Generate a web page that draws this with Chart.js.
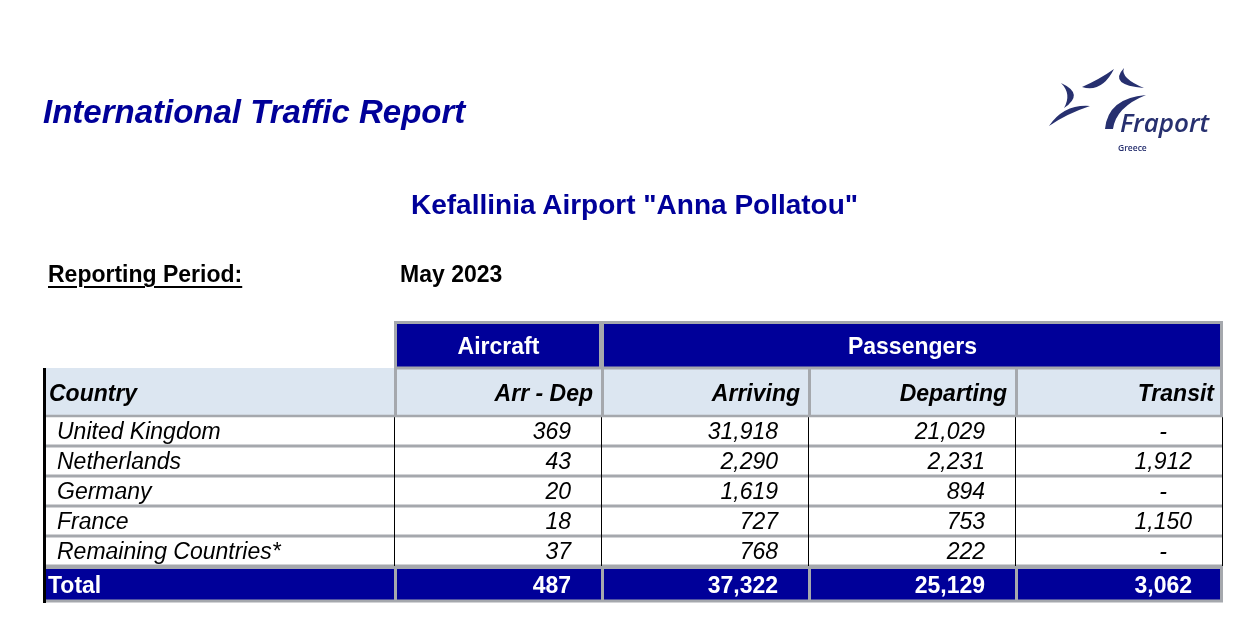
<!DOCTYPE html>
<html>
<head>
<meta charset="utf-8">
<script src="https://cdn.jsdelivr.net/npm/chart.js@4/dist/chart.umd.min.js"></script>
<style>
  html, body { margin:0; padding:0; background:#fff; }
  body { width:1257px; height:630px; position:relative; overflow:hidden; font-family:"Liberation Sans", Arial, sans-serif; }
  #c { position:absolute; left:0; top:0; }
  .t { position:absolute; white-space:nowrap; font-weight:bold; }
  #title { left:43px; top:95px; font-size:33px; line-height:33px; font-style:italic; color:#000099; }
  #subtitle { left:411px; top:191px; font-size:28px; line-height:28px; color:#000099; }
  #period { left:48px; top:263px; font-size:23px; line-height:23px; color:#000; text-decoration:underline; text-decoration-thickness:2px; text-underline-offset:4px; }
  #month { left:400px; top:263px; font-size:23px; line-height:23px; color:#000; }
  #logo { position:absolute; left:1040px; top:60px; }
</style>
</head>
<body>
<canvas id="c" width="1257" height="630"></canvas>
<div class="t" id="title">International Traffic Report</div>
<div class="t" id="subtitle">Kefallinia Airport "Anna Pollatou"</div>
<div class="t" id="period">Reporting Period:</div>
<div class="t" id="month">May 2023</div>
<svg id="logo" width="190" height="100" viewBox="0 0 190 100">
  <g fill="#27306f">
    <path d="M42,27 Q62,33 74,9 Q60,19 42,27 Z"/>
    <path d="M84,8 Q68,25 104,28 Q80,18 84,8 Z"/>
    <path d="M21,23 Q45,34 24,48 Q32,34 21,23 Z"/>
    <path d="M9,66 Q24,44 50,46 Q26,54 9,66 Z"/>
    <path d="M65,69 Q68,38 106,35 Q76,47 73,69 Z"/>
  </g>
  <text x="80" y="72" font-family="'Open Sans', 'Liberation Sans', sans-serif" font-style="italic" font-weight="600" font-size="26" fill="#27306f">Fraport</text>
  <text x="78" y="91" font-family="'Open Sans', 'Liberation Sans', sans-serif" font-weight="600" font-size="8.5" fill="#27306f">Greece</text>
</svg>
<script>
const groupLabels = ['Aircraft', 'Passengers'];
const columnLabels = ['Country', 'Arr - Dep', 'Arriving', 'Departing', 'Transit'];
const countries = ['United Kingdom', 'Netherlands', 'Germany', 'France', 'Remaining Countries*'];
const aircraftArrDep = [369, 43, 20, 18, 37];
const passengersArriving = [31918, 2290, 1619, 727, 768];
const passengersDeparting = [21029, 2231, 894, 753, 222];
const passengersTransit = [null, 1912, null, 1150, null];
const totalLabel = 'Total';
const totals = [487, 37322, 25129, 3062];

// ---- layout / style (not data) ----
const NAVY = '#000099', LIGHT = '#dce6f1', GREY = '#a5a8ad';
const colEdges = [43, 395, 602, 809, 1016, 1223];
const groupSpans = [[1, 2], [2, 5]];
const hdr1 = [321, 368], hdr2 = [368, 416];
const rowTop = 416, rowH = 30;
const totalRow = [567, 602];
const FONT = '"Liberation Sans", Arial, sans-serif';

function fmt(v) { return v == null ? '-' : v.toLocaleString('en-US'); }

const tablePlugin = {
  id: 'tablePlugin',
  afterDraw(chart) {
    const ctx = chart.ctx;
    const X = v => chart.scales.x.getPixelForValue(v);
    const Y = v => chart.scales.y.getPixelForValue(v);
    const rect = (x0, y0, x1, y1, col) => { ctx.fillStyle = col; ctx.fillRect(X(x0), Y(y0), X(x1) - X(x0), Y(y1) - Y(y0)); };
    const hline = (x0, x1, y, w, col) => { ctx.strokeStyle = col; ctx.lineWidth = w; ctx.beginPath(); ctx.moveTo(X(x0), Y(y)); ctx.lineTo(X(x1), Y(y)); ctx.stroke(); };
    const vline = (x, y0, y1, w, col) => { ctx.strokeStyle = col; ctx.lineWidth = w; ctx.beginPath(); ctx.moveTo(X(x), Y(y0)); ctx.lineTo(X(x), Y(y1)); ctx.stroke(); };
    const text = (s, x, y, align, font, col) => { ctx.font = font; ctx.fillStyle = col; ctx.textAlign = align; ctx.textBaseline = 'middle'; ctx.fillText(s, X(x), Y(y)); };
    const L = colEdges[0], R = colEdges[colEdges.length - 1];
    const nRows = countries.length;
    const rowsBottom = rowTop + nRows * rowH;
    ctx.save();

    rect(colEdges[1], hdr1[0], R, hdr1[1], NAVY);
    rect(L, hdr2[0], R, hdr2[1], LIGHT);
    rect(L, totalRow[0], R, totalRow[1], NAVY);

    for (let i = 1; i <= nRows; i++) hline(L, R, rowTop + i * rowH, 3, GREY);
    for (let i = 1; i < colEdges.length; i++) vline(colEdges[i] - 0.5, rowTop, rowsBottom, 1, '#000');

    hline(colEdges[1], R, hdr1[0] + 1.5, 3, GREY);
    hline(colEdges[1], R, hdr1[1], 3, GREY);
    hline(L, R, hdr2[1], 2.5, GREY);
    groupSpans.forEach(([a, b]) => { vline(colEdges[a] + 0.5, hdr1[0], hdr1[1], 3, GREY); vline(colEdges[b] - 1.5, hdr1[0], hdr1[1], 3, GREY); });
    for (let i = 1; i < colEdges.length; i++) vline(colEdges[i] + (i === colEdges.length - 1 ? -1.5 : 0.5), hdr2[0], hdr2[1], 3, GREY);

    hline(L, R, totalRow[0] + 0.5, 3, GREY);
    hline(L, R, totalRow[1] - 1, 3, GREY);
    for (let i = 1; i < colEdges.length; i++) vline(colEdges[i] + (i === colEdges.length - 1 ? -1.5 : 0.5), totalRow[0], totalRow[1], 3, GREY);

    vline(L + 1.5, hdr2[0], totalRow[1] + 1, 3, '#000');

    const hFont = 'bold 23px ' + FONT;
    groupSpans.forEach(([a, b], i) => text(groupLabels[i], (colEdges[a] + colEdges[b]) / 2, (hdr1[0] + hdr1[1]) / 2 + 3, 'center', hFont, '#fff'));
    const h2y = (hdr2[0] + hdr2[1]) / 2 + 3;
    const h2Font = 'italic bold 23px ' + FONT;
    text(columnLabels[0], L + 6, h2y, 'left', h2Font, '#000');
    for (let i = 1; i < columnLabels.length; i++) text(columnLabels[i], colEdges[i + 1] - 9, h2y, 'right', h2Font, '#000');

    const dFont = 'italic 23px ' + FONT;
    const cols = [aircraftArrDep, passengersArriving, passengersDeparting, passengersTransit];
    countries.forEach((c, r) => {
      const cy = rowTop + r * rowH + rowH / 2 + 2;
      text(c, L + 14, cy, 'left', dFont, '#000');
      cols.forEach((arr, j) => {
        const v = arr[r];
        if (v == null) text('-', colEdges[j + 2] - 60, cy, 'center', dFont, '#000');
        else text(fmt(v), colEdges[j + 2] - 31, cy, 'right', dFont, '#000');
      });
    });
    const ty = (totalRow[0] + totalRow[1]) / 2 + 2;
    const tFont = 'bold 23px ' + FONT;
    text(totalLabel, L + 5, ty, 'left', tFont, '#fff');
    totals.forEach((v, j) => text(fmt(v), colEdges[j + 2] - 31, ty, 'right', tFont, '#fff'));

    ctx.restore();
  }
};

new Chart(document.getElementById('c'), {
  type: 'scatter',
  data: { datasets: [] },
  options: {
    responsive: false,
    animation: false,
    events: [],
    layout: { padding: 0 },
    plugins: { legend: { display: false }, tooltip: { enabled: false }, title: { display: false } },
    scales: {
      x: { type: 'linear', display: false, min: 0, max: 1257 },
      y: { type: 'linear', display: false, min: 0, max: 630, reverse: true }
    }
  },
  plugins: [tablePlugin]
});
</script>
</body>
</html>
